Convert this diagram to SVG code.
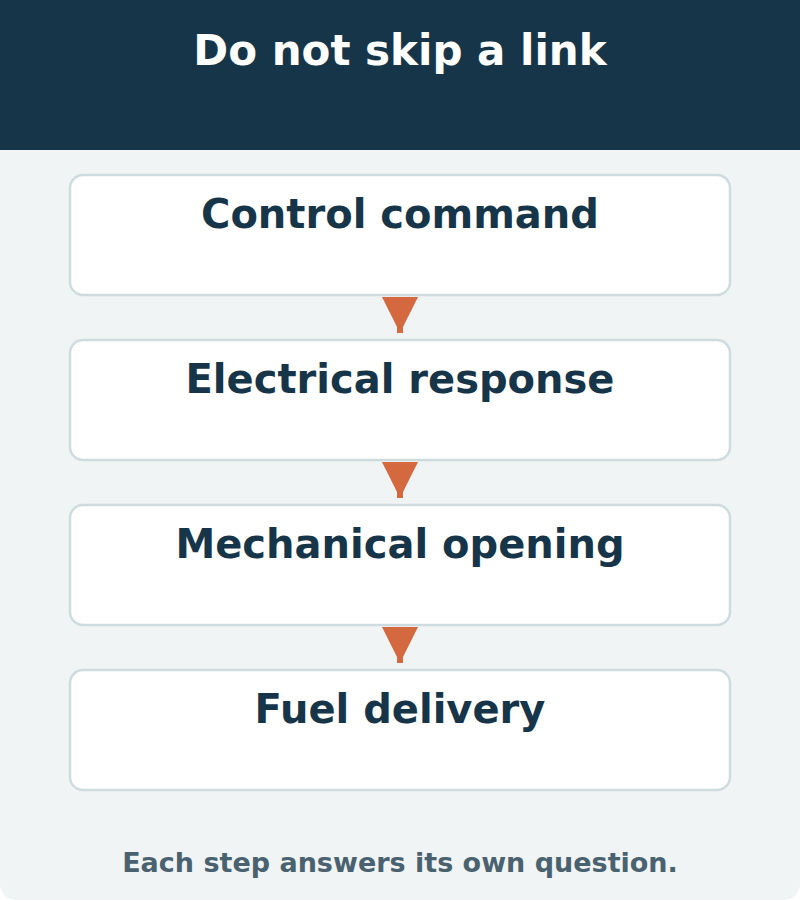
<svg xmlns="http://www.w3.org/2000/svg" width="800" height="900" viewBox="0 0 800 900">
<style>
.bg{fill:#f0f4f5}
.hdr{fill:#173549}
.title{font-family:"DejaVu Sans",sans-serif;font-weight:bold;font-size:42px;fill:#ffffff;text-anchor:middle}
.box{fill:#ffffff;stroke:#cfdcdf;stroke-width:2.5}
.lbl{font-family:"DejaVu Sans",sans-serif;font-weight:bold;font-size:40px;fill:#173549;text-anchor:middle}
.foot{font-family:"DejaVu Sans",sans-serif;font-weight:bold;font-size:27px;fill:#4a6270;text-anchor:middle}
.arr{fill:#d4693f}
</style>
<rect class="bg" x="0" y="0" width="800" height="900" rx="16"/>
<rect class="hdr" x="0" y="0" width="800" height="150"/>
<text class="title" x="400" y="65">Do not skip a link</text>
<g id="connectors">
<g class="arr"><polygon points="382,297 418,297 403,327 403,333 397,333 397,327"/></g>
<g class="arr"><polygon points="382,462 418,462 403,492 403,498 397,498 397,492"/></g>
<g class="arr"><polygon points="382,627 418,627 403,657 403,663 397,663 397,657"/></g>
</g>
<g id="node1"><rect class="box" x="70" y="175" width="660" height="120" rx="13"/><text class="lbl" x="400" y="228">Control command</text></g>
<g id="node2"><rect class="box" x="70" y="340" width="660" height="120" rx="13"/><text class="lbl" x="400" y="393">Electrical response</text></g>
<g id="node3"><rect class="box" x="70" y="505" width="660" height="120" rx="13"/><text class="lbl" x="400" y="558">Mechanical opening</text></g>
<g id="node4"><rect class="box" x="70" y="670" width="660" height="120" rx="13"/><text class="lbl" x="400" y="723">Fuel delivery</text></g>
<text class="foot" x="400" y="872">Each step answers its own question.</text>
</svg>
